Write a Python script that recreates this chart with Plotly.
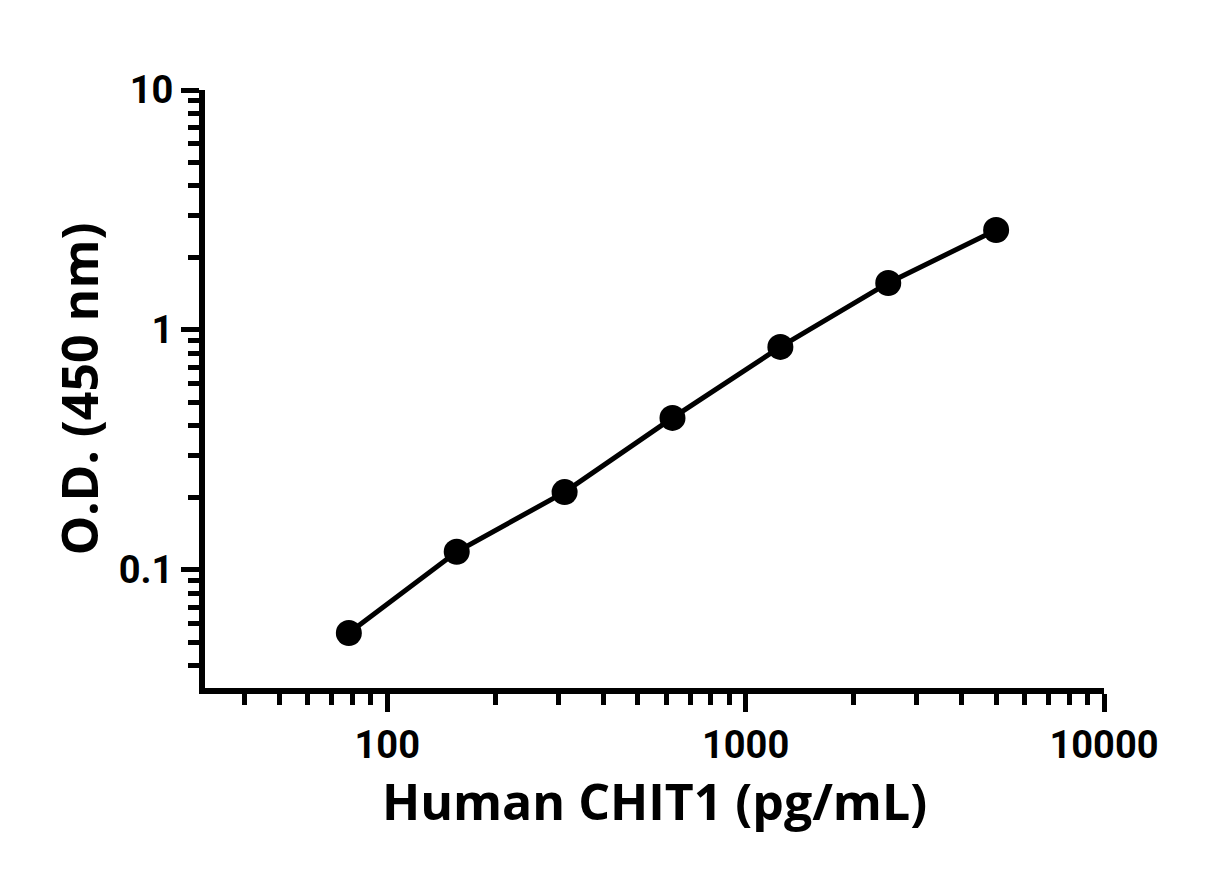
import plotly.graph_objects as go

# standard curve: Human CHIT1 concentration vs optical density
conc = [78.125, 156.25, 312.5, 625, 1250, 2500, 5000]
od = [0.0546, 0.119, 0.211, 0.430, 0.850, 1.57, 2.61]

x_major = [100, 1000, 10000]
x_minor = [40, 50, 60, 70, 80, 90, 200, 300, 400, 500, 600, 700, 800, 900,
           2000, 3000, 4000, 5000, 6000, 7000, 8000, 9000]
y_major = [0.1, 1, 10]
y_minor = [0.04, 0.05, 0.06, 0.07, 0.08, 0.09, 0.2, 0.3, 0.4, 0.5, 0.6, 0.7, 0.8, 0.9,
           2, 3, 4, 5, 6, 7, 8, 9]

tick_font = dict(family="Liberation Sans Narrow, Arial Narrow, Roboto, sans-serif",
                 size=38, color="black", weight="bold")
title_font = dict(family="Century Gothic, Open Sans, sans-serif", size=50, color="black", weight="bold")

fig = go.Figure()
fig.add_trace(go.Scatter(
    x=conc,
    y=od,
    mode="lines+markers",
    line=dict(color="black", width=5),
    marker=dict(color="black", size=26),
    showlegend=False,
))

axis_common = dict(
    type="log",
    showgrid=False,
    zeroline=False,
    showline=True,
    linecolor="black",
    linewidth=6,
    ticks="outside",
    ticklen=18,
    tickwidth=5,
    tickcolor="black",
    tickfont=tick_font,
)

fig.update_layout(
    width=1230,
    height=870,
    paper_bgcolor="white",
    plot_bgcolor="white",
    margin=dict(l=197, r=134, t=82, b=190),
    xaxis=dict(
        axis_common,
        range=[1.4914, 4.0],
        tickvals=x_major,
        ticktext=[str(v) for v in x_major],
        minor=dict(tickvals=x_minor, ticks="outside", ticklen=11, tickwidth=5, tickcolor="black"),
        title=dict(text="Human CHIT1 (pg/mL)", font=title_font, standoff=10),
    ),
    yaxis=dict(
        axis_common,
        range=[-1.492, 1.0],
        tickvals=y_major,
        ticktext=["0.1", "1", "10"],
        minor=dict(tickvals=y_minor, ticks="outside", ticklen=11, tickwidth=5, tickcolor="black"),
        title=dict(text="O.D. (450 nm)", font=title_font, standoff=6),
    ),
)

fig.write_html("out.html")
